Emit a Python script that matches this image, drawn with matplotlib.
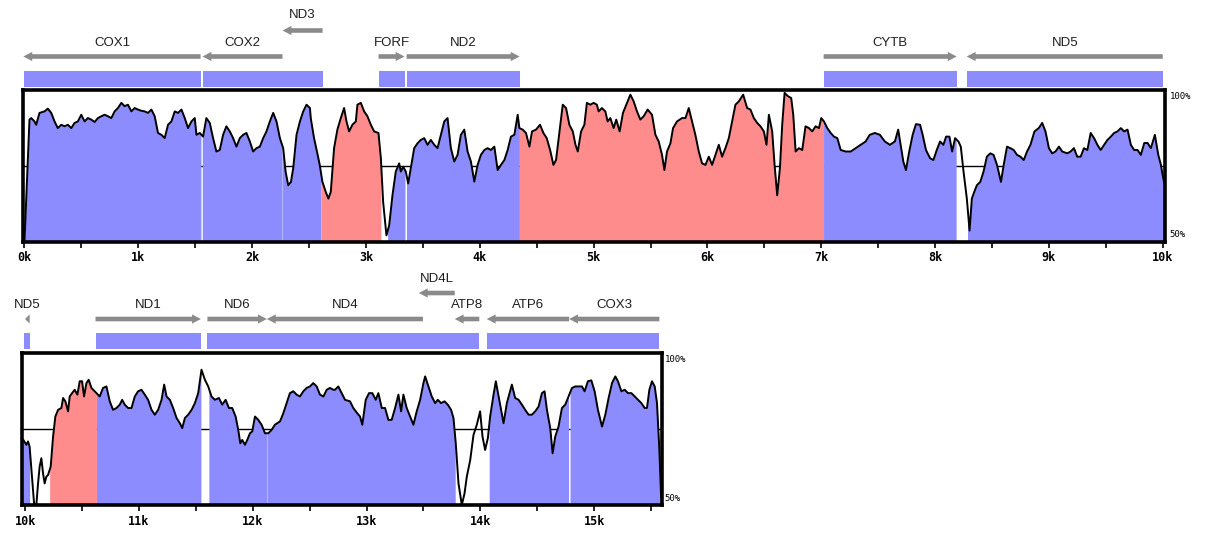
"""
VISTA-style conservation plot of a mitochondrial genome, two panels (0-10k, 10k-15.6k)
"""
import numpy as np
import matplotlib
matplotlib.use("Agg")
import matplotlib.pyplot as plt
from matplotlib.patches import Rectangle, Polygon

W, H = 1221, 537

# conservation curve, panel 1 (position bp, identity %)
top_pos = [0, 44, 59, 88, 103, 132, 176, 205, 235, 264, 293, 323, 352, 381, 411, 440, 469, 499,
           528, 557, 587, 616, 645, 675, 704, 733, 763, 792, 821, 851, 880, 909, 939, 968, 997,
           1027, 1056, 1085, 1115, 1144, 1173, 1203, 1232, 1261, 1291, 1320, 1349, 1379, 1408,
           1437, 1467, 1496, 1511, 1540, 1569, 1598, 1628, 1657, 1686, 1716, 1745, 1774, 1804,
           1833, 1862, 1892, 1921, 1950, 1980, 2009, 2038, 2068, 2097, 2126, 2156, 2185, 2214,
           2244, 2273, 2294, 2317, 2341, 2361, 2390, 2420, 2449, 2478, 2508,
           2515, 2544, 2573, 2594, 2617, 2647, 2670, 2691, 2720, 2749, 2779, 2808, 2829, 2852,
           2881, 2911, 2925, 2955, 2984, 3013, 3043, 3072, 3110, 3131, 3151, 3180, 3204, 3233,
           3262, 3292, 3306, 3327, 3350, 3371, 3394, 3424, 3453, 3482, 3512, 3541, 3570, 3600,
           3629, 3658, 3688, 3717, 3746, 3776, 3805, 3834, 3864, 3893, 3922, 3952, 3981, 4010,
           4040, 4069, 4098, 4128, 4157, 4186, 4216, 4245, 4274, 4304, 4333, 4348, 4377, 4406,
           4436, 4459, 4494, 4529, 4559, 4588, 4618, 4647, 4670, 4700, 4729, 4758, 4787, 4817,
           4841, 4861, 4890, 4919,
           4941, 4971, 5000, 5029, 5044, 5073, 5103, 5123, 5147, 5176, 5199, 5229, 5258, 5287,
           5323, 5352, 5381, 5411, 5440, 5475, 5513, 5543, 5572, 5601, 5622, 5645, 5675, 5698,
           5733, 5777, 5807, 5836, 5865, 5894, 5924, 5953, 5983, 6012, 6041, 6070, 6100, 6129,
           6158, 6188, 6217, 6246, 6276, 6314, 6349, 6378, 6408, 6437, 6466, 6496, 6519, 6540,
           6569, 6590, 6613, 6637, 6657, 6678, 6707, 6736, 6754, 6775, 6804, 6833, 6862, 6892,
           6921, 6950, 6980, 7000, 7024, 7053, 7083, 7112, 7141, 7171, 7215, 7259, 7303, 7346,
           7390,
           7426, 7471, 7515, 7559, 7603, 7647, 7676, 7697, 7721, 7744, 7773, 7803, 7832, 7868,
           7891, 7920, 7956, 7985, 8015, 8044, 8073, 8097, 8126, 8150, 8176, 8205, 8226, 8250,
           8279, 8303, 8323, 8344, 8367, 8397, 8426, 8455, 8485, 8514, 8544, 8579, 8603, 8632,
           8661, 8691, 8720, 8750, 8779, 8808, 8838, 8873, 8911, 8941, 8970, 9000, 9029, 9058,
           9088, 9117, 9161, 9191, 9220, 9249, 9279, 9308, 9338, 9367, 9397, 9426, 9455, 9485,
           9514, 9544, 9573, 9602, 9632, 9661, 9691, 9720, 9749, 9779, 9808, 9838, 9867, 9896,
           9931, 9961, 9984, 9999, 10014]
top_pct = [50, 90.1, 90.6, 89.5, 88.4, 92.3, 92.8, 93.7, 92.3, 89.5, 87.3, 88.4, 87.9, 88.4, 87.3,
           89.0, 89.5, 91.7, 89.5, 90.6, 90.1, 89.3, 90.6, 91.2, 91.7, 91.2, 90.6, 92.8, 93.9,
           95.6, 94.5, 95.0, 92.8, 93.9, 93.4, 93.0, 92.8, 92.3, 93.4, 91.2, 85.7, 85.1, 84.0,
           88.4, 89.5, 92.8, 92.3, 93.4, 90.6, 87.3, 89.5, 90.6, 85.1, 85.7, 84.5, 90.6, 89.0,
           84.0, 79.6, 80.1, 85.1, 87.9, 86.2, 84.0, 81.2, 84.0, 85.1, 85.7, 82.9, 79.6, 80.7,
           81.2, 84.0, 86.2, 89.5, 92.3, 89.5, 84.0, 80.7, 73.0, 68.5, 69.6, 74.1, 85.1, 89.5,
           92.8, 95.0, 93.9,
           90.6, 84.0, 79.0, 75.2, 69.7, 66.3, 64.1, 66.3, 80.7, 86.8, 90.6, 93.9, 89.5, 86.2,
           88.4, 89.5, 95.0, 95.6, 92.8, 91.2, 88.4, 86.2, 85.7, 77.4, 63.0, 52.0, 55.3, 65.2,
           73.0, 75.7, 73.0, 74.6, 73.0, 69.1, 74.1, 80.7, 82.3, 83.4, 84.0, 81.8, 83.4, 81.8,
           80.7, 85.1, 89.5, 90.6, 80.7, 76.3, 78.5, 85.1, 86.8, 79.6, 76.3, 69.7, 75.2, 78.5,
           80.1, 80.7, 80.1, 81.2, 73.5, 75.2, 76.8, 80.1, 84.5, 85.1, 91.7, 87.3, 86.8, 85.7,
           81.2, 86.2, 86.8, 88.4, 85.7, 84.0, 80.1, 75.2, 76.8, 86.2, 95.0, 93.9, 88.4, 86.2,
           81.8, 79.6, 86.2, 88.4,
           95.6, 95.0, 95.6, 95.0, 92.8, 93.9, 92.8, 89.5, 90.6, 87.3, 90.1, 86.2, 92.3, 95.0,
           98.3, 96.1, 92.8, 90.1, 91.2, 93.4, 91.7, 85.1, 82.9, 78.5, 73.5, 79.6, 82.3, 87.3,
           89.5, 90.6, 90.6, 93.9, 89.5, 85.1, 79.6, 75.7, 75.2, 77.9, 75.2, 78.5, 81.8, 77.9,
           80.7, 84.0, 89.5, 95.0, 96.1, 98.3, 93.9, 93.4, 90.6, 89.0, 87.9, 86.2, 81.8, 91.7,
           86.2, 75.2, 65.2, 74.1, 88.4, 98.9, 97.8, 97.2, 91.7, 79.6, 80.7, 80.1, 87.9, 87.3,
           86.2, 87.9, 87.3, 90.6, 89.5, 87.3, 85.7, 84.5, 84.0, 80.1, 79.6, 79.6, 80.7, 81.8,
           82.9,
           85.1, 85.7, 85.1, 82.9, 81.8, 82.9, 86.8, 81.8, 76.3, 73.5, 79.6, 85.1, 88.6, 88.4,
           85.1, 80.1, 77.4, 76.8, 80.1, 82.9, 81.8, 84.5, 84.5, 79.6, 84.0, 82.9, 81.2, 73.0,
           64.1, 53.6, 64.1, 66.3, 68.5, 69.6, 73.0, 77.9, 79.0, 78.5, 75.2, 69.6, 75.2, 81.2,
           80.7, 80.1, 78.5, 77.9, 76.8, 79.6, 81.8, 86.2, 87.3, 89.0, 86.2, 80.7, 79.0, 79.6,
           81.2, 79.6, 79.0, 79.6, 80.7, 77.9, 77.9, 80.7, 80.1, 85.7, 84.0, 81.8, 80.1, 81.8,
           83.4, 84.5, 85.7, 86.2, 87.3, 86.2, 86.8, 81.8, 80.1, 80.1, 78.5, 82.4, 82.4, 80.7,
           85.1, 78.5, 75.2, 71.9, 69.1]

# conservation curve, panel 2
bot_pos = [9985, 10011, 10026, 10040, 10061, 10079, 10099, 10114, 10128, 10143, 10158, 10172,
           10187, 10202, 10225, 10246, 10266, 10290, 10319, 10334, 10354, 10378, 10392, 10413,
           10436, 10460, 10480, 10501, 10518, 10539, 10559, 10583, 10612, 10656, 10685, 10715,
           10744, 10773, 10803, 10832, 10853, 10876, 10905, 10935, 10964, 10993, 11023, 11052,
           11081, 11111, 11140, 11169, 11199, 11222, 11243, 11272, 11301, 11331, 11360, 11381,
           11404, 11433, 11463, 11492, 11521, 11550, 11580, 11609, 11638, 11668, 11703, 11732,
           11762, 11791, 11820, 11850, 11873, 11891, 11908, 11932, 11952, 11976, 11996, 12020,
           12049, 12078, 12108, 12137, 12166, 12195, 12240, 12269, 12298, 12327, 12357, 12386,
           12415, 12445, 12474, 12503, 12532, 12562, 12591, 12621, 12650, 12679, 12709,
           12723, 12752, 12782, 12811, 12855, 12884, 12914, 12943, 12963, 12993, 13022, 13051,
           13081, 13104, 13134, 13163, 13192, 13221, 13251, 13280, 13304, 13324, 13353, 13383,
           13412, 13441, 13471, 13500, 13515, 13544, 13573, 13603, 13626, 13655, 13685, 13714,
           13743, 13764, 13784, 13808, 13837, 13861, 13881, 13911, 13940, 13969, 13998, 14019,
           14042, 14066, 14086, 14116, 14136, 14166, 14204, 14233, 14277, 14306, 14336, 14365,
           14394, 14424, 14453, 14482, 14512, 14541, 14564, 14585, 14614, 14635, 14658, 14687,
           14717, 14746, 14775, 14805, 14834, 14863, 14893, 14916, 14945, 14975, 15004, 15033,
           15069, 15098, 15127, 15157, 15186, 15209, 15239, 15268, 15297, 15327, 15356, 15385,
           15415, 15444, 15464, 15485, 15508, 15532, 15552, 15573, 15588]
bot_pct = [71.4, 69.8, 70.9, 69.2, 59.3, 50.5, 50.0, 57.1, 62.6, 65.4, 60.4, 57.1, 59.3, 59.9,
           62.6, 72.5, 79.1, 81.3, 81.9, 85.2, 84.1, 80.8, 85.7, 86.8, 87.9, 86.3, 90.7, 90.7,
           85.7, 90.1, 91.2, 88.5, 87.4, 85.7, 88.5, 89.0, 84.1, 81.3, 81.9, 83.0, 84.6, 83.0,
           81.9, 81.9, 85.7, 87.4, 87.9, 86.3, 84.6, 81.3, 79.7, 81.3, 84.6, 89.6, 85.7, 84.6,
           81.9, 78.6, 76.9, 75.3, 78.6, 79.7, 81.3, 83.5, 86.8, 94.5, 91.2, 89.0, 85.7, 84.6,
           85.2, 83.0, 84.6, 81.9, 81.9, 79.1, 74.7, 70.3, 71.4, 69.8, 71.4, 73.6, 74.2, 79.1,
           78.0, 76.4, 73.6, 73.6, 74.7, 76.4, 77.5, 80.2, 83.5, 86.8, 87.4, 86.3, 85.7, 87.4,
           88.5, 89.0, 90.1, 89.0, 86.3, 85.7, 87.9, 88.5, 87.9,
           87.9, 89.0, 86.8, 84.6, 84.1, 81.9, 80.4, 79.1, 76.4, 84.6, 86.8, 86.8, 84.6, 86.8,
           81.9, 81.9, 78.0, 78.0, 81.9, 86.3, 80.8, 86.3, 81.9, 79.1, 76.4, 80.8, 84.6, 90.1,
           92.3, 89.0, 85.7, 83.5, 84.6, 83.5, 84.1, 83.0, 81.3, 78.6, 70.3, 57.1, 50.0, 53.8,
           59.3, 64.8, 73.1, 76.4, 80.8, 72.5, 68.1, 72.0, 79.1, 86.3, 90.7, 84.6, 76.9, 83.5,
           89.6, 85.2, 84.6, 83.0, 81.3, 79.7, 79.7, 80.8, 82.4, 86.8, 87.4, 81.3, 75.3, 67.0,
           72.5, 75.8, 81.9, 83.0, 85.7, 88.5, 89.0, 89.0, 89.0, 87.4, 90.7, 91.0, 87.4, 81.3,
           75.8, 79.7, 85.2, 90.1, 92.3, 90.7, 87.4, 87.9, 86.8, 86.8, 85.7, 84.6, 83.5, 81.9,
           81.9, 87.9, 90.7, 89.0, 83.5, 68.1, 52.7]

# coloured (conserved) regions: start, end, kind
top_regions = [(0, 1550, "exon"), (1562, 2603, "exon"), (2603, 3131, "cns"),
               (3190, 3343, "exon"), (3356, 4348, "exon"), (4348, 7020, "cns"),
               (7020, 8185, "exon"), (8285, 10020, "exon")]
bot_regions = [(9975, 10040, "exon"), (10216, 10627, "cns"), (10627, 11545, "exon"),
               (11615, 13779, "exon"), (14078, 14775, "exon"), (14788, 15590, "exon")]
top_seams = [2264]
bot_seams = [12123]

# gene annotation: name, start, end, strand, row
top_genes = [("COX1", -10, 1547, -1, 0), ("COX2", 1564, 2267, -1, 0), ("ND3", 2267, 2619, -1, 1),
             ("FORF", 3111, 3339, 1, 0), ("ND2", 3357, 4350, 1, 0),
             ("CYTB", 7021, 8190, 1, 0), ("ND5", 8278, 10000, -1, 0)]
top_bars = [(0, 1547), (1564, 2619), (3111, 3339), (3357, 4350), (7021, 8190), (8278, 10000)]
bot_genes = [("ND5", 10000, 10040, -1, 0), ("ND1", 10619, 11545, 1, 0), ("ND6", 11602, 12124, 1, 0),
             ("ND4", 12124, 13496, -1, 0), ("ND4L", 13459, 13775, -1, 1),
             ("ATP8", 13775, 13991, -1, 0), ("ATP6", 14056, 14780, -1, 0),
             ("COX3", 14780, 15573, -1, 0)]
bot_bars = [(9990, 10040), (10619, 11545), (11602, 13991), (14056, 15573)]

threshold = 75
colours = {"exon": "#8c8cff", "cns": "#ff8c8c"}
tick_font = dict(family="DejaVu Sans Mono", weight="bold", size=8.5)


def px_axes(fig, x0, y0, x1, y1):
    # axes placed by pixel box (top-left origin)
    return fig.add_axes([x0 / W, 1 - y1 / H, (x1 - x0) / W, (y1 - y0) / H])


def fill_region(ax, pos, pct, a, b, color):
    pos = np.asarray(pos, float)
    pct = np.asarray(pct, float)
    inside = (pos > a) & (pos < b)
    xs = np.concatenate([[a], pos[inside], [b]])
    ys = np.interp(xs, pos, pct)
    ax.fill_between(xs, 50, ys, color=color, lw=0, zorder=2)


def panel(ax, pos, pct, regions, seams, xlim, ticks):
    ax.set_xlim(*xlim)
    ax.set_ylim(50, 100)
    ax.axhline(threshold, color="k", lw=1.0, zorder=1)
    for a, b, kind in regions:
        fill_region(ax, pos, pct, a, b, colours[kind])
    for s in seams:
        ax.vlines(s, 50, np.interp(s, pos, pct), color="#b4b4ff", lw=0.8, zorder=2.5)
    ax.plot(pos, pct, color="k", lw=1.4, zorder=3)
    for sp in ax.spines.values():
        sp.set_linewidth(2.6)
        sp.set_zorder(5)
    ax.set_yticks([])
    ax.set_xticks(ticks)
    ax.set_xticklabels([f"{t // 1000}k" for t in ticks], fontdict=tick_font)
    ax.set_xticks(np.arange(ticks[0], xlim[1], 500), minor=True)
    ax.tick_params(axis="x", which="both", direction="out", length=4, width=1.2, pad=3)
    ax.text(1.004, 0.985, "100%", transform=ax.transAxes, ha="left", va="top",
            family="DejaVu Sans Mono", size=6.5)
    ax.text(1.004, 0.015, "50%", transform=ax.transAxes, ha="left", va="bottom",
            family="DejaVu Sans Mono", size=6.5)


def arrow(ax, start, end, strand, y, head=78, hh=4.6, sh=2.3):
    length = end - start
    if length <= head:
        tip, base = (end, start) if strand > 0 else (start, end)
        pts = [(base, y - hh), (tip, y), (base, y + hh)]
    elif strand > 0:
        b = end - head
        pts = [(start, y - sh), (b, y - sh), (b, y - hh), (end, y), (b, y + hh), (b, y + sh), (start, y + sh)]
    else:
        b = start + head
        pts = [(end, y - sh), (b, y - sh), (b, y - hh), (start, y), (b, y + hh), (b, y + sh), (end, y + sh)]
    ax.add_patch(Polygon(pts, closed=True, color="#8a8a8a", lw=0))


def genes_track(ax, genes, bars, xlim, ylim, arrow_y, label_y, bar_y):
    ax.set_xlim(*xlim)
    ax.set_ylim(*ylim)
    ax.axis("off")
    for a, b in bars:
        ax.add_patch(Rectangle((a, bar_y), b - a, 16, color="#8c8cff", lw=0))
    for name, a, b, strand, row in genes:
        arrow(ax, a, b, strand, arrow_y[row])
        ax.text((a + b) / 2, label_y[row], name, ha="center", va="center",
                family="Liberation Sans", size=9.5, color="#1e1e1e")


fig = plt.figure(figsize=(W / 100, H / 100), dpi=100)

top_xlim = (-13, 10020)
bot_xlim = (9973, 15596)

ax1 = px_axes(fig, 23, 89.5, 1165, 241.5)
panel(ax1, top_pos, top_pct, top_regions, top_seams, top_xlim, list(range(0, 10001, 1000)))
ann1 = px_axes(fig, 23, 0, 1165, 88)
genes_track(ann1, top_genes, top_bars, top_xlim, (88, 0), {0: 56.5, 1: 30.5}, {0: 43, 1: 15.5}, 71)

ax2 = px_axes(fig, 22, 353, 662, 505)
panel(ax2, bot_pos, bot_pct, bot_regions, bot_seams, bot_xlim, list(range(10000, 15001, 1000)))
ann2 = px_axes(fig, 22, 270, 662, 352)
genes_track(ann2, bot_genes, bot_bars, bot_xlim, (352, 270), {0: 319, 1: 293}, {0: 305, 1: 279}, 333)

fig.savefig("out.png", dpi=100)
